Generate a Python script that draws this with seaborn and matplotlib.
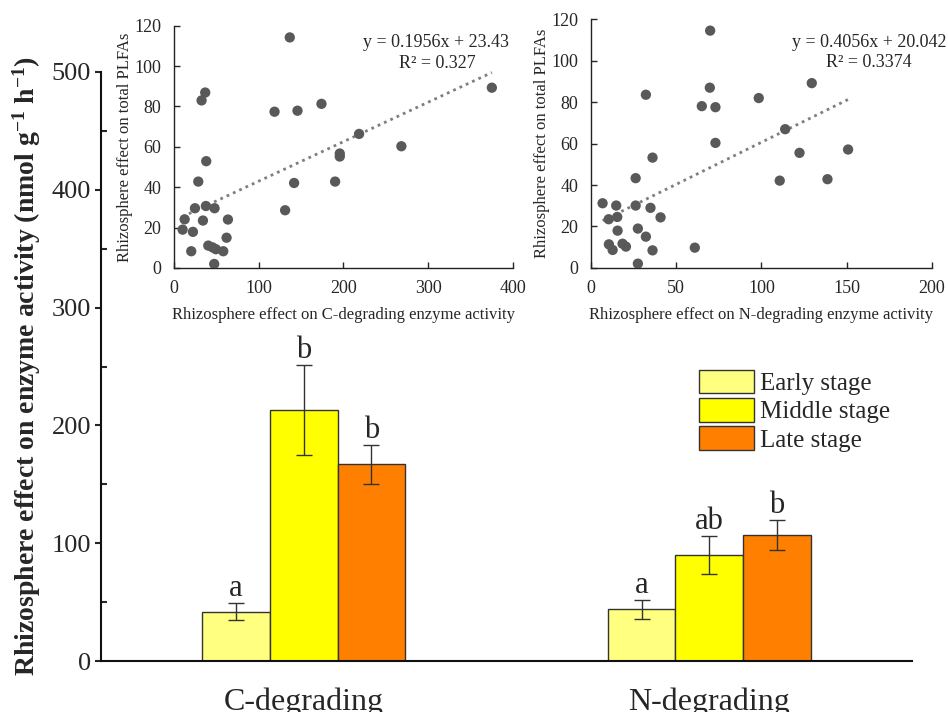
import pandas as pd
import matplotlib
matplotlib.use('Agg')
import matplotlib.pyplot as plt
from matplotlib.patches import Patch
from matplotlib.ticker import MultipleLocator
import seaborn as sns

# bar chart data
enzyme_groups = ['C-degrading', 'N-degrading']
stages = ['Early stage', 'Middle stage', 'Late stage']
c_means = [42, 213, 167]
n_means = [44, 90, 107]
c_se = [7, 38, 16.5]
n_se = [8, 16, 13]
c_letters = ['a', 'b', 'b']
n_letters = ['a', 'ab', 'b']

# inset: C-degrading enzyme activity vs total PLFAs
c_x = [136.7, 375.2, 36.9, 32.6, 118.7, 145.8, 174.1, 218.5, 268.4, 195.7, 195.7,
       38.1, 28.7, 141.8, 190.2, 131.2, 37.7, 24.8, 47.9, 12.6, 34.2, 63.7, 10.2,
       22.4, 62.1, 40.5, 45.6, 49.5, 20.4, 58.2, 47.5]
c_y = [114.2, 89.3, 86.9, 83.0, 77.4, 77.9, 81.3, 66.4, 60.3, 56.7, 55.2,
       52.9, 42.8, 42.1, 42.8, 28.6, 30.7, 29.6, 29.6, 24.1, 23.5, 24.0, 19.0,
       17.9, 15.0, 11.1, 10.2, 9.3, 8.3, 8.3, 2.0]
c_slope, c_intercept, c_r2 = 0.1956, '23.43', '0.327'

# inset: N-degrading enzyme activity vs total PLFAs
n_x = [69.9, 129.5, 32.2, 69.7, 65.0, 73.0, 98.4, 113.9, 73.0, 150.8, 122.3,
       36.1, 26.2, 110.7, 138.7, 6.8, 14.8, 26.2, 34.9, 10.4, 15.4, 40.8, 15.6,
       27.5, 32.2, 10.5, 18.5, 20.5, 12.7, 36.1, 60.9, 27.5]
n_y = [114.4, 89.1, 83.5, 86.9, 78.0, 77.5, 81.9, 66.9, 60.3, 57.1, 55.5,
       53.2, 43.3, 42.1, 42.8, 31.2, 30.1, 30.1, 29.0, 23.5, 24.6, 24.4, 18.0,
       19.0, 15.1, 11.4, 11.7, 10.3, 8.7, 8.5, 9.8, 2.1]
n_slope, n_intercept, n_r2 = 0.4056, '20.042', '0.3374'

palette = {'Early stage': '#FFFF80', 'Middle stage': '#FFFF00', 'Late stage': '#FF8000'}

sns.set_style('ticks')
plt.rcParams['font.family'] = ['Liberation Serif', 'DejaVu Serif']
plt.rcParams['mathtext.fontset'] = 'custom'
plt.rcParams['mathtext.rm'] = 'Liberation Serif'
plt.rcParams['mathtext.bf'] = 'Liberation Serif:bold'

bar_df = pd.DataFrame({
    'group': [g for g in enzyme_groups for _ in stages],
    'stage': stages * 2,
    'value': c_means + n_means,
    'se': c_se + n_se,
    'letter': c_letters + n_letters,
})

fig = plt.figure(figsize=(9.48, 7.12), dpi=100)
ax = fig.add_axes([0.1065, 0.0716, 0.8555, 0.8273])

sns.barplot(data=bar_df, x='group', y='value', hue='stage', hue_order=stages,
            palette=palette, saturation=1, width=0.5, edgecolor='#333333', linewidth=1,
            errorbar=None, legend=False, ax=ax)

# error bars and significance letters at each bar centre (patches come hue by hue)
stage_order = {k: i for i, k in enumerate(stages)}
ordered = bar_df.sort_values('stage', key=lambda s: s.map(stage_order), kind='stable')
for patch, (_, row) in zip(ax.patches, ordered.iterrows()):
    cx = patch.get_x() + patch.get_width() / 2
    ax.errorbar(cx, row['value'], yerr=row['se'], color='#333333', lw=1,
                capsize=6, capthick=1, zorder=4)
    ax.annotate(row['letter'], (cx, row['value'] + row['se']), xytext=(0, 5),
                textcoords='offset points', ha='center', va='baseline', fontsize=22)

ax.set_xlim(-0.5, 1.5)
ax.set_ylim(0, 500)
ax.yaxis.set_major_locator(MultipleLocator(100))
ax.yaxis.set_minor_locator(MultipleLocator(50))
ax.tick_params(axis='y', which='major', direction='out', length=4, width=1.5,
               labelsize=19, pad=3)
ax.tick_params(axis='y', which='minor', direction='in', length=4, width=1.5)
ax.tick_params(axis='x', length=0, labelsize=23, pad=19)
ax.set_xlabel('')
ax.set_ylabel('Rhizosphere effect on enzyme activity (nmol g$\\mathbf{^{-1}}$ h$\\mathbf{^{-1}}$)',
              fontsize=20, fontweight='bold', labelpad=6)
sns.despine(ax=ax)
for side in ['left', 'bottom']:
    ax.spines[side].set_linewidth(1.5)
    ax.spines[side].set_color('#111111')

handles = [Patch(facecolor=palette[s], edgecolor='#333333', linewidth=1) for s in stages]
ax.legend(handles, stages, loc='upper left', bbox_to_anchor=(0.737, 0.480),
          bbox_transform=fig.transFigure, frameon=False, fontsize=18,
          handlelength=2.2, handleheight=1.05, labelspacing=0.12,
          handletextpad=0.25, borderpad=0, borderaxespad=0)


def draw_inset(rect, xs, ys, slope, intercept, r2, xmax, xstep, xlabel, eq_pos, r2_pos):
    iax = fig.add_axes(rect)
    iax.set_facecolor('none')
    sns.scatterplot(x=xs, y=ys, color='#595959', s=55, edgecolor='none', ax=iax, zorder=3)
    line_x = [min(xs), max(xs)]
    line_y = [slope * v + float(intercept) for v in line_x]
    sns.lineplot(x=line_x, y=line_y, color='#7f7f7f', lw=2, linestyle=(0, (1, 1.5)), ax=iax)
    iax.set_xlim(0, xmax)
    iax.set_ylim(0, 120)
    iax.xaxis.set_major_locator(MultipleLocator(xstep))
    iax.yaxis.set_major_locator(MultipleLocator(20))
    iax.tick_params(direction='in', length=4, width=1, labelsize=13, pad=9)
    sns.despine(ax=iax)
    for side in ['left', 'bottom']:
        iax.spines[side].set_linewidth(1)
        iax.spines[side].set_color('#222222')
    iax.set_xlabel(xlabel, fontsize=12, labelpad=7)
    iax.set_ylabel('Rhizosphere effect on total PLFAs', fontsize=12, labelpad=1)
    iax.text(eq_pos[0], eq_pos[1], f'y = {slope}x + {intercept}', transform=iax.transAxes,
             ha='right', va='center', fontsize=13)
    iax.text(r2_pos[0], r2_pos[1], f'R² = {r2}', transform=iax.transAxes,
             ha='center', va='center', fontsize=13)
    return iax


draw_inset([0.1835, 0.6236, 0.3575, 0.3403], c_x, c_y, c_slope, c_intercept, c_r2,
           400, 100, 'Rhizosphere effect on C-degrading enzyme activity',
           (0.988, 0.93), (0.776, 0.843))
draw_inset([0.6234, 0.6236, 0.3597, 0.3497], n_x, n_y, n_slope, n_intercept, n_r2,
           200, 50, 'Rhizosphere effect on N-degrading enzyme activity',
           (1.044, 0.904), (0.815, 0.827))

fig.savefig('out.png', dpi=100)
plt.close(fig)
